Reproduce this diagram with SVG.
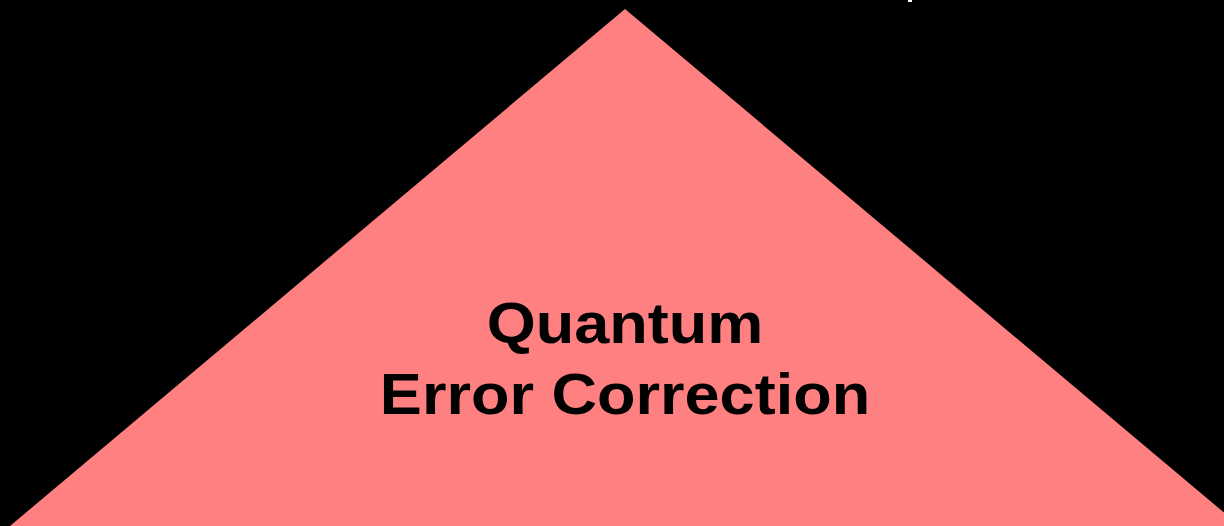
<svg xmlns="http://www.w3.org/2000/svg" width="1224" height="526" viewBox="0 0 1224 526">
<style>
.lbl{font-family:"Liberation Sans",Arial,sans-serif;font-weight:bold;font-size:57px;fill:#000;text-anchor:middle}
</style>
<rect x="0" y="0" width="1224" height="526" fill="#000"/>
<g id="qec">
<polygon points="625,9 1240,526 10,526" fill="#FF8080"/>
<g transform="translate(625,0) scale(1.106,1)">
<text class="lbl" x="0" y="343">Quantum</text>
<text class="lbl" x="0" y="414">Error Correction</text>
</g>
</g>
<rect x="908" y="0" width="4" height="2" fill="#fff"/>
</svg>
